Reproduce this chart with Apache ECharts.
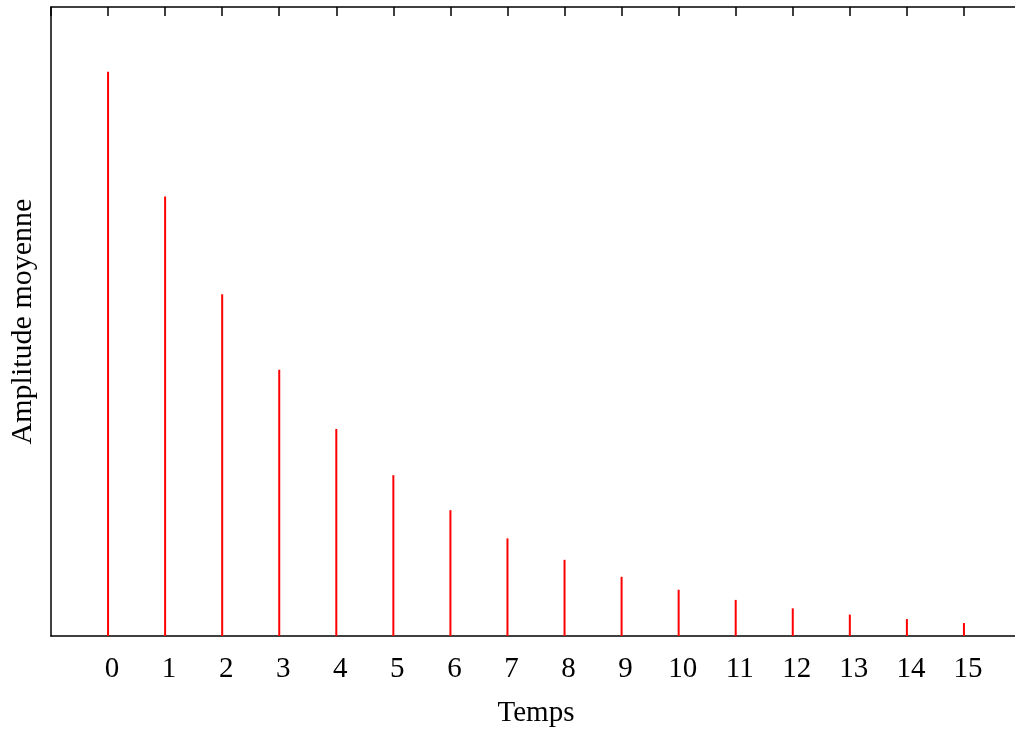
<!DOCTYPE html>
<html>
<head>
<meta charset="utf-8">
<script src="https://cdn.jsdelivr.net/npm/echarts@6/dist/echarts.min.js"></script>
<style>html,body{margin:0;padding:0;background:#fff;}#c{width:1015px;height:731px;}</style>
</head>
<body>
<div id="c"></div>
<script>
// Data
var temps = [0, 1, 2, 3, 4, 5, 6, 7, 8, 9, 10, 11, 12, 13, 14, 15];
var amplitude = [1.000, 0.779, 0.606, 0.472, 0.367, 0.285, 0.223, 0.173, 0.135, 0.105, 0.082, 0.064, 0.049, 0.038, 0.030, 0.023];
var xLabel = 'Temps';
var yLabel = 'Amplitude moyenne';

var font = 'Liberation Serif';
var chart = echarts.init(document.getElementById('c'), null, {renderer: 'canvas'});
var seriesData = temps.map(function (t, i) { return [t, amplitude[i]]; });

chart.setOption({
  animation: false,
  backgroundColor: '#fff',
  grid: {left: 51, top: 7, width: 970, height: 629, containLabel: false, outerBoundsMode: 'none'},
  xAxis: [{
    type: 'value', position: 'bottom', min: -1, max: 16, interval: 1,
    name: xLabel, nameLocation: 'middle', nameGap: 63,
    nameTextStyle: {fontFamily: font, fontSize: 29, color: '#000'},
    axisLine: {show: true, onZero: false, lineStyle: {color: '#000', width: 1.5}},
    axisTick: {show: false},
    splitLine: {show: false},
    axisLabel: {
      fontFamily: font, fontSize: 29, color: '#000', margin: 19, padding: [0, 0, 0, 8],
      formatter: function (v) { return (v >= temps[0] && v <= temps[temps.length - 1]) ? String(v) : ''; }
    }
  }, {
    type: 'value', position: 'top', min: -1, max: 16, interval: 1,
    axisLine: {show: true, onZero: false, lineStyle: {color: '#000', width: 1.5}},
    axisTick: {show: true, inside: true, length: 9, lineStyle: {color: '#000', width: 1.5}},
    axisLabel: {show: false},
    splitLine: {show: false}
  }],
  yAxis: {
    type: 'value', min: 0, max: 1.115, position: 'left',
    name: yLabel, nameLocation: 'middle', nameGap: 13,
    nameTextStyle: {fontFamily: font, fontSize: 30, color: '#000'},
    axisLine: {show: true, onZero: false, lineStyle: {color: '#000', width: 1.5}},
    axisTick: {show: false},
    axisLabel: {show: false},
    splitLine: {show: false}
  },
  series: [{
    type: 'bar', xAxisIndex: 0, data: seriesData, barWidth: 2,
    itemStyle: {color: '#ff0000'}
  }]
});
</script>
</body>
</html>
